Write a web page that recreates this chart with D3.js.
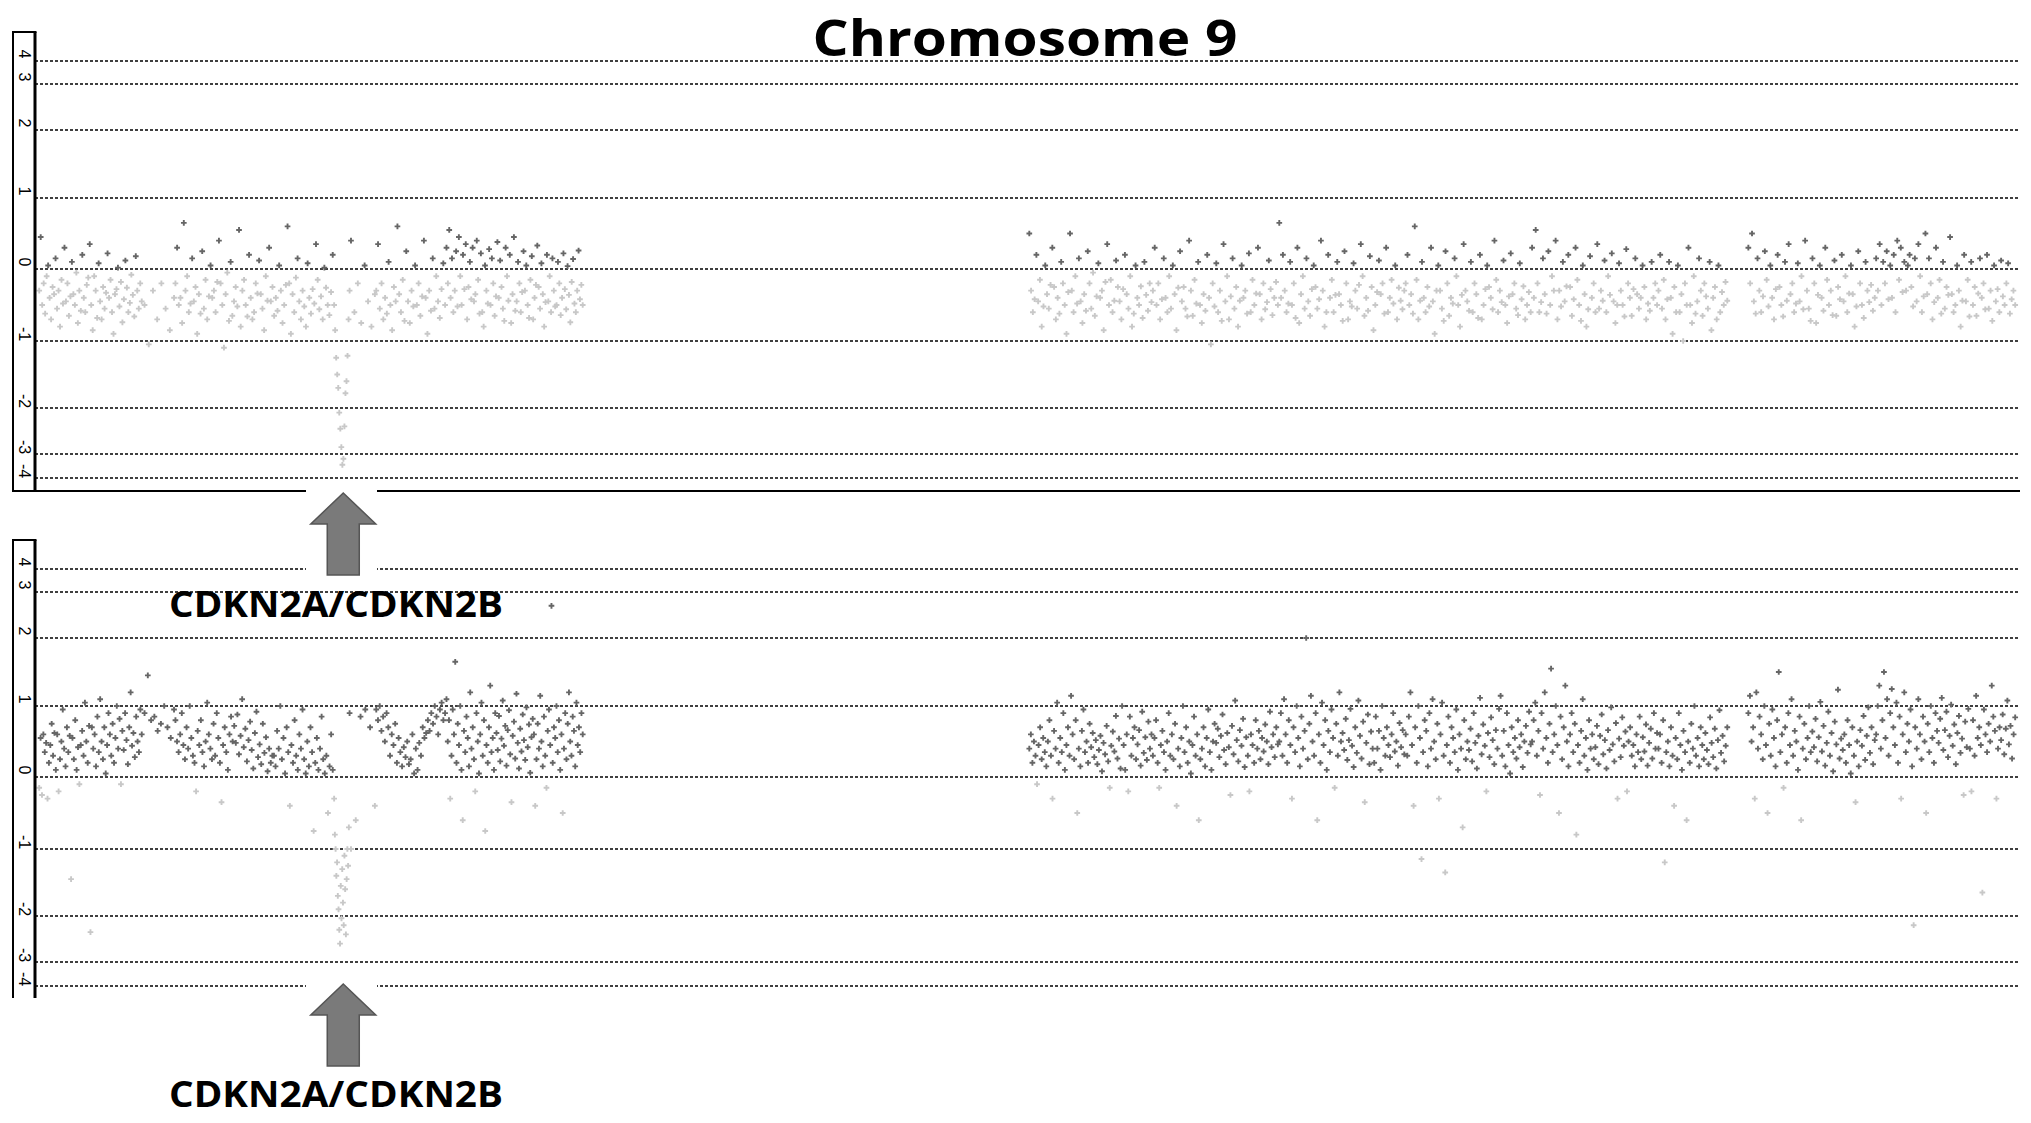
<!DOCTYPE html>
<html><head><meta charset="utf-8">
<script src="https://cdn.jsdelivr.net/npm/d3@7"></script>
<style>body{margin:0;background:#fff}svg{display:block}</style>
</head><body>
<svg id="chart" width="2031" height="1123"></svg>
<script>
// ---------- DATA ----------
const title = "Chromosome 9";
const geneLabel = "CDKN2A/CDKN2B";
const geneMb = 21.95;
const chromLengthMb = 141.2;
const tickValues = [4, 3, 2, 1, 0, -1, -2, -3, -4];
const tickLabels = ["4", "3", "2", "1", "0", "-1", "-2", "-3", "-4"];
// probe blocks along the chromosome (Mb)
const blocksMb = [[0.3,7.6],[7.8,9.9],[10.0,21.2],[21.3,22.4],[22.5,24.2],[24.3,29.2],[29.3,39.0],
  [70.8,79.5],[79.6,88.5],[88.6,97.5],[97.6,106.5],[106.6,115.5],[115.6,120.5],[122.0,131.0],[131.1,141.0]];

// sample 1 (upper panel) log2 ratios per block
const sample1 = [
 [-0.3,0.45,-0.5,-0.2,-0.62,-0.1,0.05,-0.4,-0.7,-0.25,-0.35,0.15,-0.55,-0.3,-0.8,-0.15,-0.48,0.3,-0.45,-0.2,-0.65,-0.38,0.1,-0.35,-0.5,-0.05,-0.75,-0.3,-0.58,0.2,-0.4,-0.6,-0.22,-0.12,0.35,-0.5,-0.85,-0.1,-0.3,-0.68,0.08,-0.45,-0.7,-0.25,-0.55,-0.33,0.22,-0.4,-0.15,-0.6,-0.9,-0.35,-0.28,0.02,-0.52,-0.18,-0.74,-0.42,0.12,-0.26,-0.6,-0.47,-0.08,-0.36,-0.66,0.18,-0.3,-0.55,-0.2,-0.45],
 [-0.5,-1.05,-0.3,-0.7,-0.2,-0.55,-0.85,-0.4],
 [-0.2,0.3,-0.5,-0.4,-0.75,0.65,-0.3,-0.1,-0.6,-0.48,0.15,-0.45,-0.25,-0.9,-0.35,-0.62,0.25,-0.55,-0.15,-0.7,-0.38,0.05,-0.4,-0.3,-0.6,-0.18,0.4,-0.2,-0.5,-1.1,-0.35,-0.05,-0.72,0.1,-0.65,-0.45,-0.25,-0.52,0.55,-0.8,-0.3,-0.15,-0.5,-0.66,0.2,-0.4,-0.7,-0.6,-0.2,-0.34,0.12,-0.35,-0.55,-0.85,-0.1,-0.44,0.3,-0.45,-0.25,-0.65,-0.4,-0.58,0.05,-0.3,-0.75,-0.5,-0.22,0.6,-0.2,-0.9,-0.35,-0.6,-0.12,0.15,-0.45,-0.7,-0.3,-0.52,-0.8,0.08,-0.4,-0.62,-0.28,-0.48,0.35,-0.15,-0.56,-0.38,-0.7,0.02,-0.26,-0.5,-0.64,-0.32,0.2],
 [-0.5,-0.85,-1.25,-1.5,-1.7,-2.1,-2.45,-2.85,-3.45,-3.2,-2.4,-1.78,-1.6,-1.22,-0.7,-0.3],
 [0.4,-0.6,-0.2,-0.75,0.05,-0.45,-0.8,-0.35],
 [-0.3,0.35,-0.55,-0.2,-0.7,-0.4,-0.62,0.1,-0.5,-0.85,-0.25,-0.45,0.6,-0.35,-0.6,-0.15,-0.72,0.25,-0.45,-0.75,-0.3,-0.52,0.05,-0.5,-0.2,-0.65,-0.38,0.4,-0.4,-0.9,-0.3,-0.58,0.15,-0.55,-0.1,-0.45,-0.68,-0.28,0.08,-0.5],
 [0.3,-0.2,0.55,-0.4,0.15,-0.6,-0.3,0.25,-0.52,0.45,-0.1,-0.5,0.2,-0.28,0.35,-0.7,-0.25,0.1,-0.42,0.3,-0.45,-0.35,0.4,-0.15,-0.62,0.22,-0.6,-0.8,0.05,-0.3,-0.48,0.28,-0.5,0.15,-0.2,-0.65,-0.38,0.38,-0.4,0.12,-0.25,-0.55,-0.72,0.3,-0.1,-0.44,0.2,-0.75,-0.35,0.45,-0.58,-0.45,0.1,-0.2,-0.6,-0.32,0.25,-0.3,0.05,-0.5,-0.68,-0.15,0.18,-0.7,-0.4,-0.22,0.33,-0.25,-0.55,0.08,-0.35,-0.8,-0.46,0.2,-0.45,-0.1,-0.6,0.15,-0.3,-0.52,-0.5,0.1,-0.2,-0.64,-0.4,0.22,-0.28,-0.56,0.04,-0.36,-0.74,-0.18,0.14,-0.48,-0.6,-0.3,0.26,-0.42,-0.22,-0.5],
 [0.5,-0.3,-0.6,-0.42,0.2,-0.45,-0.15,-0.8,-0.52,0.05,-0.35,-0.55,-0.22,0.3,-0.25,-0.7,-0.4,-0.62,0.1,-0.2,-0.5,-0.9,-0.32,0.5,-0.3,-0.6,-0.1,-0.48,0.15,-0.45,-0.75,-0.35,-0.58,0.25,-0.2,-0.55,-0.05,-0.65,-0.38,0.08,-0.4,-0.3,-0.85,-0.18,0.35,-0.5,-0.15,-0.6,-0.44,0.12,-0.25,-0.45,-0.7,-0.28,0.2,-0.35,-0.55,-0.1,-0.8,-0.62,0.05,-0.4,-0.5,-0.24,-0.68,0.1,-0.36,-0.58,-0.2,-0.46],
 [-0.3,0.3,-0.5,-0.2,-0.7,-0.42,0.15,-0.4,-0.6,-0.1,-0.55,0.05,-0.35,-0.85,-0.26,0.25,-0.45,-0.25,-0.55,-0.66,0.4,-0.3,-0.65,-0.15,-0.48,0.1,-0.5,-0.75,-0.35,-0.58,0.2,-0.4,-1.05,-0.2,-0.52,0.08,-0.6,-0.3,-0.72,0.35,-0.45,-0.1,-0.7,-0.38,0.15,-0.55,-0.25,-0.8,-0.44,0.05,-0.4,-0.3,-0.62,0.22,-0.6,-0.15,-0.5,-0.34,0.3,-0.35,-0.7,-0.2,-0.56,-0.46,0.12,-0.28,-0.64,-0.4,-0.18,-0.5],
 [0.65,-0.4,0.2,-0.3,-0.6,-0.48,0.1,-0.5,-0.2,-0.68,0.3,-0.75,-0.35,-0.1,-0.55,0.15,-0.45,-0.65,-0.28,0.05,-0.25,-0.55,-0.42,0.4,-0.3,-0.8,-0.6,0.2,-0.4,-0.15,-0.6,-0.36,0.1,-0.35,-0.5,-0.72,0.25,-0.2,-0.7,-0.45,-0.52,0.08,-0.3,-0.55,-0.22,0.35,-0.1,-0.65,-0.4,-0.58,0.18,-0.25,-0.85,-0.5,-0.32,0.12,-0.35,-0.2,-0.62,0.3,-0.6,-0.4,-0.15,-0.48,0.05,-0.7,-0.26,-0.44,-0.56,-0.3],
 [-0.2,0.2,-0.5,-0.35,-0.62,0.6,-0.15,-0.7,-0.44,0.1,-0.4,-0.6,-0.25,-0.52,0.3,-0.45,-0.9,-0.3,0.05,-0.3,-0.55,-0.72,0.25,-0.2,-0.65,-0.4,-0.48,0.15,-0.1,-0.5,-0.8,-0.36,0.35,-0.3,-0.45,-0.58,0.1,-0.6,-0.2,-0.35,-0.68,0.2,-0.7,-0.5,-0.28,0.05,-0.25,-0.4,-0.56,0.4,-0.15,-0.6,-0.3,-0.46,0.12,-0.5,-0.75,-0.38,0.22,-0.35,-0.2,-0.55,-0.64,0.08,-0.42,-0.24,-0.7,-0.5,-0.32,-0.6],
 [0.3,-0.4,0.55,-0.2,-0.6,-0.46,0.15,-0.35,-0.62,0.25,-0.5,-0.1,-0.3,0.4,-0.7,-0.3,-0.52,0.1,-0.45,-0.24,0.2,-0.25,-0.65,-0.42,0.3,-0.15,-0.5,-0.72,0.05,-0.35,-0.8,-0.56,0.18,-0.4,-0.2,-0.6,0.35,-0.55,-0.3,-0.44,0.12,-0.6,-0.1,-0.36,0.22,-0.45,-0.75,-0.5,0.08,-0.3,-0.5,-0.66,0.28,-0.2,-0.4,-0.65,-0.28,0.15,-0.35,-0.55,-0.4,0.05,-0.25,-0.7,-0.48,-0.58,0.1,-0.4,-0.2,-0.5],
 [-0.3,0.2,-0.55,-0.15,-0.7,-0.42,0.1,-0.4,-0.9,-0.25,-0.6,0.05,-0.6,-0.35,-1.0,-0.2,-0.5,0.3,-0.5,-0.75,-0.1,-0.62,-0.45,0.15,-0.3,-0.65,-0.2,-0.38,-0.55,0.1,-0.85,-0.4,-0.25,-0.7,0.05,-0.6,-0.32,-0.5,-0.18,-0.44],
 [0.3,-0.2,0.5,-0.45,-0.62,0.15,-0.3,-0.6,-0.38,0.25,-0.15,-0.52,0.05,-0.4,-0.7,-0.28,0.2,-0.25,-0.5,-0.66,0.1,-0.44,0.35,-0.35,-0.2,-0.6,-0.48,0.08,-0.45,-0.1,-0.56,0.4,-0.3,-0.55,-0.72,0.15,-0.2,-0.75,-0.36,0.05,-0.4,-0.58,0.3,-0.15,-0.5,-0.3,-0.64,0.12,-0.65,-0.25,-0.42,0.2,-0.45,-0.1,-0.6,-0.34,0.05,-0.35,-0.8,-0.52,0.25,-0.2,-0.5,-0.68,0.1,-0.3,-0.46,-0.22,-0.58,-0.4],
 [0.15,-0.3,0.35,-0.5,0.1,-0.2,0.25,-0.42,0.05,-0.4,0.2,-0.6,0.4,-0.15,0.3,-0.32,0.1,-0.3,0.05,0.2,-0.25,-0.52,0.15,-0.45,0.35,-0.1,-0.6,-0.38,0.5,-0.35,0.15,-0.2,-0.7,-0.46,0.3,-0.4,-0.15,-0.62,0.1,-0.55,-0.25,-0.36,0.45,-0.35,-0.6,-0.5,0.05,-0.3,-0.8,-0.44,0.2,-0.45,-0.15,-0.66,0.1,-0.5,-0.25,-0.65,-0.34,0.15,-0.4,-0.2,-0.56,0.2,-0.55,-0.3,-0.72,0.05,-0.45,-0.28,-0.6,0.12,-0.38,-0.5,-0.2,0.08,-0.62,-0.42,-0.3,-0.5]
];

// sample 2 (lower panel) log2 ratios per block
const sample2 = [
 [-0.15,0.55,-0.25,0.6,0.35,0.48,-0.3,0.2,0.45,0.75,0.3,0.62,0.1,0.6,-0.2,0.25,0.5,0.95,0.4,0.15,0.7,0.35,0.58,-1.45,0.55,0.25,0.8,0.1,0.42,-0.1,0.45,0.65,0.3,1.05,0.5,0.2,0.72,-2.35,0.7,0.4,0.6,0.15,0.85,0.35,1.1,0.5,0.25,0.7,0.05,0.45,0.9,0.6,0.3,0.75,0.2,0.55,1.0,0.4,0.82,-0.1,0.65,0.38,0.9,0.52,0.18,0.7,1.2,0.44,0.62,0.28,0.85,0.5,0.35,0.95,0.6],
 [0.9,1.45,0.8,0.85,0.65,0.75,1.0,0.7,0.55,0.95],
 [0.8,0.5,0.35,0.6,0.9,0.45,0.25,0.7,0.4,1.0,0.55,0.3,0.2,-0.2,0.65,0.45,0.8,0.35,0.15,0.5,1.05,0.6,0.4,0.25,0.75,0.3,0.9,0.55,0.2,-0.35,0.45,0.7,0.35,0.1,0.6,0.85,0.5,0.72,0.48,0.88,0.32,0.58,1.1,0.42,0.68,0.22,0.52,0.78,0.38,0.12,0.62,0.92,0.28,0.46,0.18,0.75,0.34,0.56,0.08,0.4,0.2,0.3,0.3,0.15,0.65,0.4,1.0,0.25,0.55,0.05,0.7,0.35,-0.4,0.45,0.2,0.8,0.3,0.1,0.6,0.4,0.95,0.25,0.05,0.5,0.15,0.7,0.35,-0.75,0.2,0.55,0.1,0.4,0.85,0.25,0.05,0.3,-0.5,0.15,0.6,0.1],
 [-0.3,-0.8,-1.0,-1.4,-1.2,-1.7,-1.9,-2.3,-2.6,-1.55,-2.05,-1.3,-1.8,-2.2,-1.1,-1.6,-2.4,-1.45,-1.0,-1.25,-0.7,0.9],
 [-1.0,-0.6,0.85,0.95,0.7,-0.4],
 [0.95,0.8,1.0,0.65,0.85,0.5,0.9,0.7,0.3,0.6,0.45,0.75,0.2,0.55,0.35,0.15,0.42,0.28,0.5,0.18,0.25,0.6,0.05,0.4,0.1,0.48,0.3,0.7,0.55,0.62,0.8,0.65,0.9,0.75,1.0,0.85,0.6,0.95,1.05,0.8,0.9],
 [1.1,0.5,0.8,-0.3,0.3,0.95,0.6,1.65,0.2,0.75,0.45,1.0,0.1,-0.6,0.65,0.35,0.85,0.55,0.15,1.2,0.4,0.7,0.25,-0.2,0.9,0.5,0.05,0.6,1.05,0.3,0.8,-0.75,0.45,0.2,0.7,1.3,0.35,0.55,0.1,0.9,0.62,0.38,0.86,0.22,0.54,1.08,0.44,0.72,0.16,0.66,0.94,0.32,-0.35,0.58,0.78,0.26,1.18,0.48,0.12,0.68,0.36,0.88,0.52,0.24,0.98,0.42,0.74,0.06,0.56,0.82,0.6,-0.4,0.25,0.75,0.4,1.15,0.5,0.15,0.85,0.3,-0.15,0.65,0.95,0.45,2.7,0.2,0.7,0.55,1.0,0.35,0.8,0.1,0.6,-0.5,0.4,0.9,0.25,0.75,1.2,0.5,0.3,0.85,0.65,0.15,1.05,0.45,0.7,0.35,0.9,0.6],
 [0.4,0.6,0.2,0.5,0.3,-0.1,0.45,0.7,0.25,0.55,0.35,0.15,0.5,0.8,0.3,-0.3,0.65,0.4,1.05,0.2,0.55,0.35,0.9,0.1,0.45,0.7,0.3,1.15,0.6,0.25,0.8,-0.5,0.4,0.15,0.65,0.95,0.35,0.5,0.2,0.75,0.42,0.62,0.28,0.52,0.18,0.38,0.58,0.08,0.48,0.32,0.72,0.22,-0.15,0.44,0.64,0.36,0.86,0.26,0.54,0.12,1.0,0.45,0.1,0.6,-0.2,0.85,0.3,0.55,0.7,0.25,0.46,0.66,0.16,0.92,0.34,0.56,0.24,0.78,0.4,0.6],
 [0.3,0.55,0.8,0.2,-0.15,0.45,0.65,0.35,0.1,0.5,0.9,0.3,0.6,0.25,0.75,-0.4,0.4,0.15,0.55,1.0,0.35,0.7,0.2,0.5,0.05,0.45,0.85,0.3,0.6,-0.6,0.25,0.4,0.7,0.15,0.55,0.95,0.35,0.1,0.5,0.75,0.48,0.68,0.28,0.58,0.88,0.38,0.18,0.62,0.42,-0.25,0.72,0.32,1.08,0.52,0.22,0.66,0.44,0.82,0.14,0.56,0.3,-0.2,0.6,0.45,0.2,0.8,0.4,0.65,0.25,0.55,0.36,0.74,0.5,0.18,0.92,0.42,0.6,0.28,0.7,0.46],
 [0.5,0.9,0.3,1.1,0.6,0.2,0.8,0.45,-0.3,0.7,0.35,1.0,0.55,0.15,0.85,0.4,0.65,2.0,0.25,0.75,1.15,0.5,0.3,0.9,-0.6,0.6,0.2,1.05,0.45,0.8,0.1,0.65,0.35,0.95,0.55,-0.15,0.75,0.3,1.2,0.5,0.62,0.38,0.82,0.24,0.52,0.96,0.44,0.14,0.7,0.34,1.08,0.58,0.26,0.78,-0.35,0.48,0.88,0.18,0.64,0.4,0.2,0.85,0.4,0.65,0.1,1.0,0.55,0.3,0.7,0.45,0.28,0.6,0.9,0.36,0.5,0.16,0.76,0.42,0.66,0.32],
 [0.6,0.3,0.85,1.2,0.45,-0.4,0.7,0.2,1.0,0.55,-1.15,0.35,0.8,0.65,0.15,0.9,0.4,1.1,0.5,0.25,0.75,-0.3,0.6,1.05,0.3,-1.35,0.45,0.85,0.2,0.7,0.55,0.35,0.95,0.1,0.6,0.4,-0.7,0.8,0.25,0.5,0.38,0.68,0.22,0.9,0.48,0.12,0.58,1.12,0.32,0.74,0.44,-0.2,0.62,0.28,0.84,0.52,0.18,0.66,0.4,0.96,1.15,0.3,0.65,0.15,0.9,0.45,0.05,0.7,0.35,0.55,0.26,0.8,0.42,0.6,0.14,0.5,0.72,0.34,0.92,0.46],
 [0.5,0.8,1.05,0.3,0.65,-0.25,0.9,0.4,1.2,0.55,0.2,0.75,1.55,0.35,0.6,1.0,0.45,-0.5,0.85,0.25,0.7,1.3,0.5,0.15,0.6,0.9,0.35,0.75,-0.8,0.45,0.2,0.65,1.1,0.3,0.55,0.1,0.8,0.4,0.6,0.25,0.42,0.72,0.18,0.58,0.88,0.32,0.52,0.12,0.66,0.38,0.98,0.46,0.22,0.76,-0.3,0.54,0.28,0.84,0.44,0.64,-0.2,0.5,0.7,0.3,0.45,0.15,0.6,0.35,0.85,0.25,0.56,0.36,0.74,0.16,0.48,0.68,0.26,0.9,0.4,0.62],
 [0.4,0.6,0.2,0.8,-1.2,0.35,0.5,0.15,0.7,0.3,-0.4,0.55,0.25,0.9,0.45,0.1,0.65,0.35,-0.6,0.5,0.2,0.75,0.4,1.0,0.3,0.55,0.15,0.7,0.45,0.25,0.62,0.38,0.18,0.84,0.48,0.28,0.68,0.12,0.52,0.94,0.34,0.58,0.22,0.44,0.7],
 [0.9,1.15,0.5,0.7,-0.3,1.2,0.4,0.85,0.6,0.25,1.0,0.45,-0.5,0.75,0.3,0.95,0.55,0.15,0.8,1.5,0.35,0.6,-0.15,0.7,0.2,0.9,0.45,1.1,0.3,0.65,0.5,0.1,0.85,-0.6,0.4,0.75,0.25,0.55,1.0,0.35,0.64,0.42,0.82,0.22,0.56,1.06,0.36,0.72,0.16,0.48,0.92,0.3,0.62,0.08,0.78,0.46,1.24,0.26,0.54,0.38,0.6,0.2,0.8,0.45,0.05,0.7,0.3,-0.35,0.5,0.15,0.66,0.44,0.86,0.24,0.58,0.98,0.34,0.7,0.18,0.52],
 [0.6,1.0,1.3,0.4,0.8,1.5,0.55,1.1,0.3,0.9,1.25,0.7,0.45,1.05,0.2,0.85,-0.3,0.6,1.2,0.35,0.75,0.5,0.95,0.15,-2.2,0.7,0.4,1.1,0.6,0.25,0.85,0.5,-0.5,0.75,0.35,1.0,0.55,0.2,0.9,0.65,0.48,0.82,1.12,0.38,0.66,0.92,0.28,0.58,1.02,0.44,0.74,0.18,0.62,0.86,0.34,0.54,-0.25,0.78,0.42,0.96,0.4,-0.2,0.8,0.3,1.15,0.55,0.7,0.45,-1.65,0.95,0.6,0.35,0.75,0.5,1.3,0.85,0.65,-0.3,0.4,0.7,0.52,0.88,0.32,0.68,1.08,0.46,0.72,0.26,0.6,0.84]
];

// ---------- DRAW ----------
const svg = d3.select("#chart");
svg.append("rect").attr("width", 2031).attr("height", 1123).attr("fill", "#fff");

const x = d3.scaleLinear().domain([0, chromLengthMb]).range([35, 2018]);
const panelTopRange = [61, 84, 130, 198, 269, 341, 408, 454, 478];
const panels = [
  {data: sample1, offset: 0, boxTop: 32, boxBottom: 491, closed: true},
  {data: sample2, offset: 508, boxTop: 540, boxBottom: 998, closed: false}
];

function points(data) {
  const out = [];
  blocksMb.forEach((b, i) => {
    const vals = data[i];
    const n = vals.length;
    vals.forEach((v, j) => {
      const mb = n === 1 ? (b[0] + b[1]) / 2 : b[0] + (b[1] - b[0]) * j / (n - 1);
      out.push({mb, v});
    });
  });
  return out;
}

const cross = d3.symbol().type(d3.symbolCross).size(18);

panels.forEach(p => {
  const y = d3.scaleLinear().domain(tickValues).range(panelTopRange.map(r => r + p.offset));
  const g = svg.append("g");

  g.selectAll("line.grid").data(tickValues).join("line")
    .attr("x1", 35).attr("x2", 2020)
    .attr("y1", d => y(d)).attr("y2", d => y(d))
    .attr("stroke", "#000").attr("stroke-width", 1.6)
    .attr("stroke-dasharray", "3,2");

  const pts = points(p.data);
  g.selectAll("path.pt").data(pts.filter(d => d.v <= 0)).join("path")
    .attr("d", cross)
    .attr("transform", d => `translate(${x(d.mb)},${y(d.v)})`)
    .attr("fill", "#c8c8c8");
  g.selectAll("path.ptd").data(pts.filter(d => d.v > 0)).join("path")
    .attr("d", cross)
    .attr("transform", d => `translate(${x(d.mb)},${y(d.v)})`)
    .attr("fill", "#666");

  g.append("line").attr("x1", 13).attr("x2", 13).attr("y1", p.boxTop).attr("y2", p.boxBottom)
    .attr("stroke", "#000").attr("stroke-width", 2);
  g.append("line").attr("x1", 35).attr("x2", 35).attr("y1", p.boxTop).attr("y2", p.boxBottom)
    .attr("stroke", "#000").attr("stroke-width", 3);
  g.append("line").attr("x1", 12).attr("x2", 36.5).attr("y1", p.boxTop).attr("y2", p.boxTop)
    .attr("stroke", "#000").attr("stroke-width", 2);
  if (p.closed) {
    g.append("line").attr("x1", 12).attr("x2", 2020).attr("y1", p.boxBottom).attr("y2", p.boxBottom)
      .attr("stroke", "#000").attr("stroke-width", 2);
  }

  g.selectAll("text.tick").data(tickValues).join("text")
    .attr("transform", d => `translate(24.5,${y(d) - 7}) rotate(90)`)
    .attr("text-anchor", "middle").attr("dominant-baseline", "central")
    .attr("font-family", "Liberation Sans, Arial, sans-serif").attr("font-size", 16)
    .attr("fill", "#000")
    .text((d, i) => tickLabels[i]);
});

svg.append("text").attr("x", 1025).attr("y", 56)
  .attr("text-anchor", "middle")
  .attr("font-family", "Open Sans, Noto Sans, sans-serif").attr("font-weight", "bold")
  .attr("font-size", 50).attr("textLength", 425).attr("lengthAdjust", "spacingAndGlyphs")
  .attr("fill", "#000").text(title);

const ax = x(geneMb);
[{top: 493, bottom: 575, textY: 617}, {top: 984, bottom: 1066, textY: 1107}].forEach(a => {
  svg.append("rect").attr("x", 306).attr("y", a.top - 9).attr("width", 71).attr("height", a.bottom - a.top + 12)
    .attr("fill", "#fff");
  const headH = 31, headW = 32.5, shaftW = 16;
  const pathD = `M${ax},${a.top} L${ax + headW},${a.top + headH} L${ax + shaftW},${a.top + headH} L${ax + shaftW},${a.bottom} L${ax - shaftW},${a.bottom} L${ax - shaftW},${a.top + headH} L${ax - headW},${a.top + headH} Z`;
  svg.append("path").attr("d", pathD).attr("fill", "#7a7a7a").attr("stroke", "#555").attr("stroke-width", 1.5);
  svg.append("text").attr("x", 336).attr("y", a.textY).attr("text-anchor", "middle")
    .attr("font-family", "Open Sans, Noto Sans, sans-serif").attr("font-weight", "bold")
    .attr("font-size", 36).attr("textLength", 334).attr("lengthAdjust", "spacingAndGlyphs")
    .attr("fill", "#000").text(geneLabel);
});
</script>
</body></html>
